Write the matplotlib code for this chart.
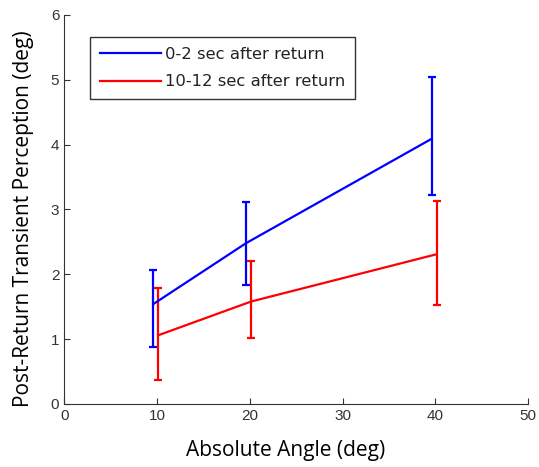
import matplotlib
matplotlib.use("Agg")
import numpy as np
import matplotlib.pyplot as plt

angles = [10, 20, 40]

early_mean = [1.54, 2.48, 4.09]
early_low = [0.88, 1.83, 3.23]
early_high = [2.06, 3.12, 5.05]

late_mean = [1.06, 1.58, 2.31]
late_low = [0.37, 1.01, 1.53]
late_high = [1.79, 2.20, 3.13]

labels = ["0-2 sec after return", "10-12 sec after return"]


def draw_series(ax, x, mean, low, high, color, label):
    mean = np.array(mean)
    yerr = [mean - np.array(low), np.array(high) - mean]
    ax.errorbar(x, mean, yerr=yerr, color=color, lw=1.6, elinewidth=1.6,
                capsize=3, capthick=1.6, label=label)


fig = plt.figure(figsize=(5.39, 4.67), dpi=100)
ax = fig.add_axes([0.119, 0.135, 0.861, 0.833])

x = np.array(angles, dtype=float)
draw_series(ax, x - 0.4, early_mean, early_low, early_high, "#0000ff", labels[0])
draw_series(ax, x + 0.15, late_mean, late_low, late_high, "#ff0000", labels[1])

ax.set_xlim(0, 50)
ax.set_ylim(0, 6)
ax.set_xticks([0, 10, 20, 30, 40, 50])
ax.set_yticks([0, 1, 2, 3, 4, 5, 6])
for s in ["top", "right"]:
    ax.spines[s].set_visible(False)
for s in ["left", "bottom"]:
    ax.spines[s].set_color("#333333")
ax.tick_params(direction="in", length=4, colors="#333333", labelsize=11,
               labelcolor="#333333")
for t in ax.get_xticklabels() + ax.get_yticklabels():
    t.set_family("Liberation Sans")

ax.set_xlabel("Absolute Angle (deg)", family="Open Sans", fontsize=15)
ax.set_ylabel("Post-Return Transient Perception (deg)", family="Open Sans",
              fontsize=15)
ax.xaxis.set_label_coords(0.478, -0.093)
ax.yaxis.set_label_coords(-0.066, 0.476)

handles, lbls = ax.get_legend_handles_labels()
handles = [h[0] for h in handles]
leg = ax.legend(handles, lbls, loc="upper left", bbox_to_anchor=(0.056, 0.943),
                borderaxespad=0,
                prop={"family": "DejaVu Sans", "size": 11.8},
                fancybox=False, edgecolor="#333333", framealpha=1,
                handlelength=3.7, handletextpad=0.25, borderpad=0.6,
                labelspacing=0.75)
leg.get_frame().set_linewidth(1.0)
for t in leg.get_texts():
    t.set_color("#222222")

fig.savefig("out.png", dpi=100)
